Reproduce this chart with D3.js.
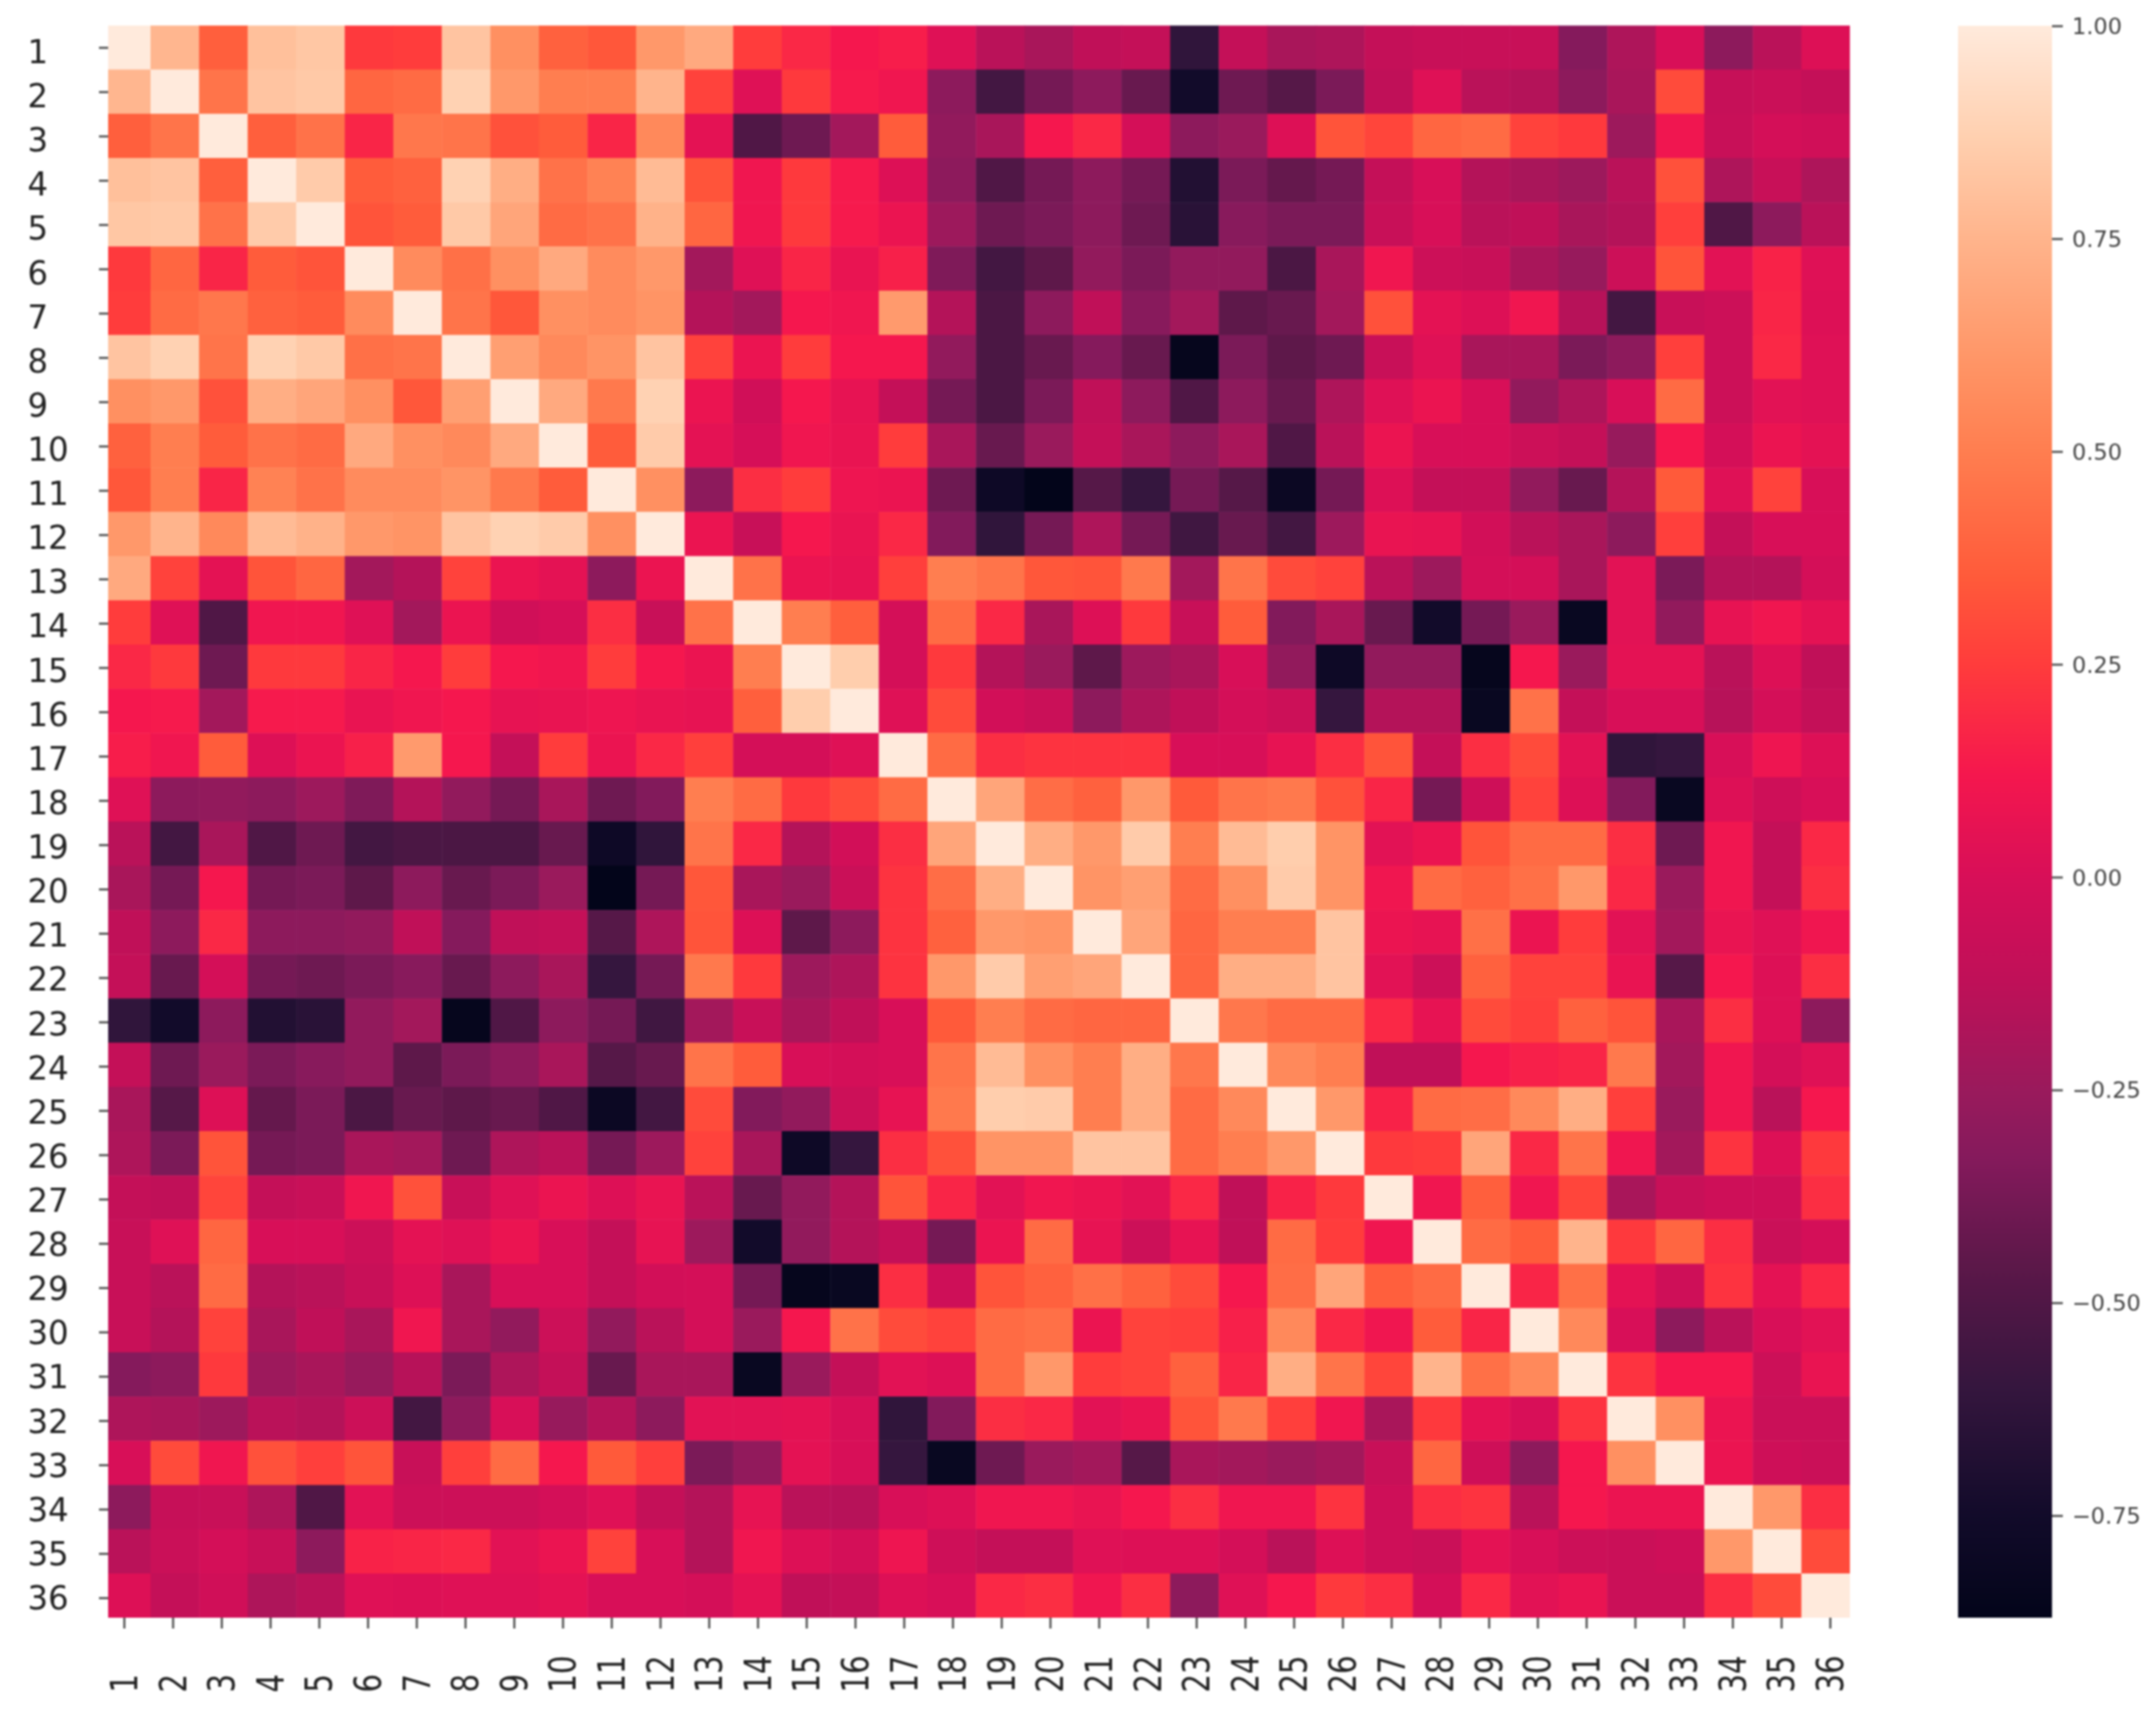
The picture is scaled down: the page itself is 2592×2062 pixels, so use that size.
<!DOCTYPE html>
<html><head><meta charset="utf-8">
<script src="https://cdn.jsdelivr.net/npm/d3@7"></script>
<style>html,body{margin:0;padding:0;background:#fff}svg{display:block;filter:blur(.9px)}text{font-family:"DejaVu Sans"}</style>
</head><body><svg id="c" width="2592" height="2062"></svg>
<script>
// Upper triangle of the symmetric correlation matrix, each row starting on the diagonal
const u1=[1,.76,.37,.80,.83,.24,.25,.82,.58,.38,.34,.62,.70,.25,.18,.12,.14,.03,-.14,-.20,-.12,-.10,-.62,-.10,-.20,-.18,-.10,-.08,-.08,-.08,-.33,-.18,.0,-.30,-.14,.02];
const u2=[1,.46,.82,.84,.40,.42,.88,.62,.50,.50,.75,.27,.03,.24,.13,.10,-.30,-.55,-.38,-.30,-.42,-.75,-.40,-.48,-.36,-.12,.03,-.14,-.16,-.30,-.20,.30,-.09,-.07,-.10];
const u3=[1,.37,.45,.17,.47,.46,.32,.36,.17,.55,.05,-.50,-.40,-.22,.36,-.28,-.20,.12,.18,-.02,-.30,-.25,.02,.33,.28,.40,.42,.27,.24,-.24,.10,-.08,-.02,-.04];
const u4=[1,.85,.36,.38,.88,.72,.45,.52,.78,.33,.10,.24,.13,.02,-.30,-.50,-.38,-.30,-.38,-.68,-.36,-.43,-.38,-.10,.0,-.16,-.20,-.24,-.14,.32,-.18,-.08,-.18];
const u5=[1,.33,.36,.84,.68,.42,.45,.74,.40,.10,.24,.13,.08,-.24,-.40,-.36,-.30,-.40,-.65,-.32,-.36,-.36,-.08,.0,-.14,-.12,-.20,-.16,.26,-.50,-.30,-.14];
const u6=[1,.56,.44,.58,.70,.56,.62,-.22,.03,.17,.07,.15,-.35,-.55,-.45,-.28,-.36,-.28,-.28,-.52,-.20,.10,-.06,-.08,-.20,-.26,-.06,.33,.04,.16,.03];
const u7=[1,.46,.34,.58,.56,.60,-.16,-.22,.12,.10,.63,-.16,-.52,-.30,-.12,-.32,-.22,-.45,-.42,-.22,.32,.05,.02,.10,-.15,-.55,-.08,-.06,.17,.02];
const u8=[1,.65,.55,.60,.82,.27,.08,.25,.12,.12,-.28,-.52,-.42,-.33,-.42,-.85,-.36,-.45,-.40,-.08,.03,-.20,-.20,-.36,-.30,.26,-.06,.18,.03];
const u9=[1,.70,.48,.88,.08,-.04,.12,.06,-.10,-.38,-.52,-.36,-.12,-.30,-.50,-.30,-.42,-.18,.03,.08,.0,-.28,-.18,.0,.42,-.06,.04,.03];
const u10=[1,.36,.85,.05,-.01,.10,.07,.25,-.20,-.42,-.25,-.10,-.20,-.30,-.20,-.50,-.14,.08,.0,.0,-.06,-.10,-.26,.12,-.02,.08,.05];
const u11=[1,.58,-.30,.20,.25,.09,.08,-.40,-.78,-.87,-.48,-.60,-.38,-.48,-.80,-.38,.02,-.10,-.10,-.28,-.42,-.16,.35,.03,.27,.0];
const u12=[1,.08,-.08,.12,.07,.18,-.34,-.62,-.38,-.18,-.38,-.56,-.42,-.55,-.24,.07,.06,-.03,-.14,-.20,-.30,.26,-.10,.0,.0];
const u13=[1,.45,.08,.06,.26,.50,.46,.34,.33,.48,-.22,.46,.30,.27,-.14,-.24,-.02,-.02,-.20,.04,-.36,-.16,-.16,-.02];
const u14=[1,.50,.37,-.02,.42,.18,-.20,.02,.24,-.08,.36,-.34,-.20,-.42,-.75,-.38,-.25,-.82,.04,-.28,.06,.10,.05];
const u15=[1,.86,-.02,.24,-.16,-.25,-.45,-.24,-.20,.0,-.28,-.78,-.28,-.28,-.85,.12,-.25,.05,.05,-.14,.02,-.12];
const u16=[1,.03,.30,-.03,-.07,-.30,-.18,-.12,-.02,-.06,-.60,-.16,-.16,-.82,.45,-.10,.0,.0,-.15,-.02,-.10];
const u17=[1,.42,.20,.22,.22,.22,.0,.0,.06,.20,.33,-.10,.20,.30,.04,-.62,-.60,.0,.09,.02];
const u18=[1,.68,.43,.38,.62,.35,.46,.48,.32,.17,-.38,-.05,.27,.02,-.34,-.82,.02,-.05,.0];
const u19=[1,.72,.62,.85,.50,.78,.86,.60,.04,.08,.33,.42,.42,.20,-.40,.10,-.10,.18];
const u20=[1,.60,.65,.42,.58,.85,.60,.10,.42,.38,.44,.62,.18,-.25,.10,-.10,.20];
const u21=[1,.68,.40,.50,.50,.82,.08,.06,.44,.08,.25,.04,-.22,.07,.03,.10];
const u22=[1,.40,.72,.72,.82,.04,-.06,.38,.27,.27,.07,-.48,.12,.02,.20];
const u23=[1,.47,.42,.42,.18,.06,.30,.26,.38,.33,-.20,.20,.02,-.30];
const u24=[1,.55,.50,-.12,-.12,.12,.15,.17,.48,-.22,.10,-.02,.03];
const u25=[1,.62,.16,.42,.43,.55,.72,.26,-.25,.10,-.14,.12];
const u26=[1,.24,.25,.68,.18,.46,.10,-.22,.22,.02,.24];
const u27=[1,.10,.37,.10,.28,-.20,-.08,-.05,-.05,.20];
const u28=[1,.42,.36,.75,.24,.40,.20,-.07,-.02];
const u29=[1,.17,.44,.05,-.05,.22,.05,.18];
const u30=[1,.55,.0,-.30,-.14,.0,.04];
const u31=[1,.22,.12,.12,-.06,.07];
const u32=[1,.58,.08,-.07,-.07];
const u33=[1,.08,-.05,-.07];
const u34=[1,.62,.20];
const u35=[1,.30];
const u36=[1];
const upper=[u1,u2,u3,u4,u5,u6,u7,u8,u9,u10,u11,u12,u13,u14,u15,u16,u17,u18,u19,u20,u21,u22,u23,u24,u25,u26,u27,u28,u29,u30,u31,u32,u33,u34,u35,u36];
const categories=upper.map((_,i)=>String(i+1));
const colorTicks=[1,.75,.5,.25,0,-.25,-.5,-.75];
const vMin=-.87,vMax=1;
const colorValues=[-.87,-.75,-.6,-.45,-.33,-.25,-.12,0,.12,.25,.35,.5,.6,.75,.87,1];
const colorStops=["#03051a","#120b2a","#35163e","#5e184a","#851a5c","#9a1a5c","#c01058","#d80f58","#f5174e","#ff3c3c","#ff5a3a","#ff7e50","#ff9465","#ffb48c","#ffd0b0","#ffeadc"];

const svg=d3.select("#c");
const x=d3.scaleBand().domain(categories).range([122.6,2224]);
const y=d3.scaleBand().domain(categories).range([30.4,1945]);
const xTick=d3.scalePoint().domain(categories).range([149,2200]);
const yTick=d3.scalePoint().domain(categories).range([57,1921]);
const yLabel=d3.scalePoint().domain(categories).range([62,1921]);
const color=d3.scaleLinear().domain(colorValues).range(colorStops).clamp(true);
const cbY=d3.scaleLinear().domain([vMin,vMax]).range([1945,31]);

svg.append("defs").append("clipPath").attr("id","plot").append("rect")
  .attr("x",130).attr("y",y.range()[0]).attr("width",x.range()[1]-130).attr("height",y.range()[1]-y.range()[0]);
const cells=[];
upper.forEach((row,i)=>row.forEach((v,k)=>{const j=i+k;cells.push({r:i,c:j,v});if(k)cells.push({r:j,c:i,v});}));
svg.append("g").attr("clip-path","url(#plot)").selectAll("rect").data(cells).join("rect")
  .attr("x",d=>x(categories[d.c])).attr("y",d=>y(categories[d.r]))
  .attr("width",x.bandwidth()+.5).attr("height",y.bandwidth()+.5).attr("fill",d=>color(d.v));

const gx=svg.append("g").attr("transform","translate(0,1945)").call(d3.axisBottom(xTick).tickSize(13).tickSizeOuter(0));
gx.select(".domain").remove();
gx.selectAll("line").attr("stroke","#555").attr("stroke-width",2.6);
gx.selectAll("text").attr("y",null).attr("dy",null).attr("fill","#222").attr("font-size",39)
  .attr("text-anchor","start").attr("dominant-baseline","central")
  .attr("transform","translate(0,90) rotate(-90) scale(.9,1.15)");

const gy=svg.append("g").attr("transform","translate(130,0)").call(d3.axisLeft(yTick).tickSize(11).tickSizeOuter(0));
gy.select(".domain").remove();
gy.selectAll("line").attr("stroke","#555").attr("stroke-width",2.6);
gy.selectAll("text").attr("x",-97).attr("dy",null).attr("dominant-baseline","central").attr("fill","#222").attr("font-size",39).attr("text-anchor","start")
  .attr("y",d=>yLabel(d)-yTick(d));

const grad=svg.select("defs").append("linearGradient").attr("id","cb").attr("x1",0).attr("x2",0).attr("y1",1).attr("y2",0);
colorValues.forEach((v,i)=>grad.append("stop").attr("offset",(v-vMin)/(vMax-vMin)).attr("stop-color",colorStops[i]));
svg.append("rect").attr("x",2354).attr("y",31).attr("width",113).attr("height",1914).attr("fill","url(#cb)");
const gc=svg.append("g").attr("transform","translate(2467,0)").call(d3.axisRight(cbY).tickValues(colorTicks).tickFormat(d3.format(".2f")).tickSize(13).tickSizeOuter(0));
gc.select(".domain").remove();
gc.selectAll("line").attr("stroke","#555").attr("stroke-width",2.6);
gc.selectAll("text").attr("x",24).attr("dy",null).attr("dominant-baseline","central").attr("fill","#444").attr("font-size",27);
</script></body></html>
